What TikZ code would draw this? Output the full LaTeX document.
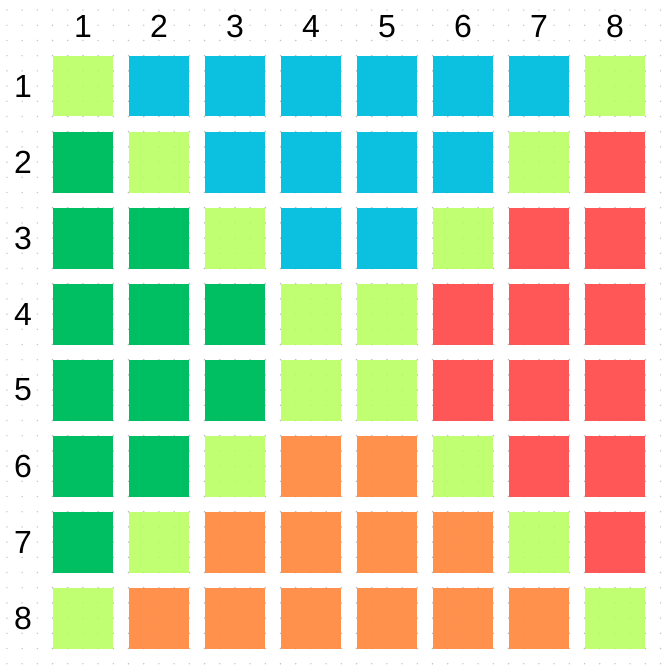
\documentclass[tikz,border=0pt]{standalone}
\usepackage{fontspec}
\setmainfont{Liberation Sans}
\definecolor{cLG}{HTML}{C1FF72}
\definecolor{cB}{HTML}{0CC0DF}
\definecolor{cG}{HTML}{00BF63}
\definecolor{cR}{HTML}{FF5757}
\definecolor{cO}{HTML}{FF914D}
\tikzset{
  cell/.style={draw=none, minimum size=60.8pt, inner sep=0pt, outer sep=0pt},
  lbl/.style={font=\fontsize{32}{32}\selectfont, inner sep=0pt, anchor=center},
  griddot/.style={fill=gray!45}
}
\begin{document}
\begin{tikzpicture}[x=1pt,y=-1pt]
\useasboundingbox (0,0) rectangle (665,666);
\fill[white] (0,0) rectangle (665,666);
% dot grid
\foreach \i in {0,...,43}{
  \foreach \j in {0,...,43}{
    \fill[griddot] ({6.9+15.2*\i},{10.1+15.2*\j}) circle (0.8);
  }
}
% cells
\foreach \row [count=\r] in {
  {cLG,cB,cB,cB,cB,cB,cB,cLG},
  {cG,cLG,cB,cB,cB,cB,cLG,cR},
  {cG,cG,cLG,cB,cB,cLG,cR,cR},
  {cG,cG,cG,cLG,cLG,cR,cR,cR},
  {cG,cG,cG,cLG,cLG,cR,cR,cR},
  {cG,cG,cLG,cO,cO,cLG,cR,cR},
  {cG,cLG,cO,cO,cO,cO,cLG,cR},
  {cLG,cO,cO,cO,cO,cO,cO,cLG}}{
  \foreach \col [count=\c] in \row {
    \node[cell, fill=\col] (s\r-\c) at ({82.9+76*(\c-1)},{86.1+76*(\r-1)}) {};
  }
}
% faint dots over cells
\foreach \i in {3,...,42}{
  \foreach \j in {3,...,42}{
    \fill[gray, opacity=0.12] ({6.9+15.2*\i},{10.1+15.2*\j}) circle (0.8);
  }
}
% labels
\foreach \c in {1,...,8}{
  \node[lbl] (col\c) at ({82.9+76*(\c-1)},26.5) {\c};
  \node[lbl] (row\c) at (23,{86.1+76*(\c-1)}) {\c};
}
\end{tikzpicture}
\end{document}
